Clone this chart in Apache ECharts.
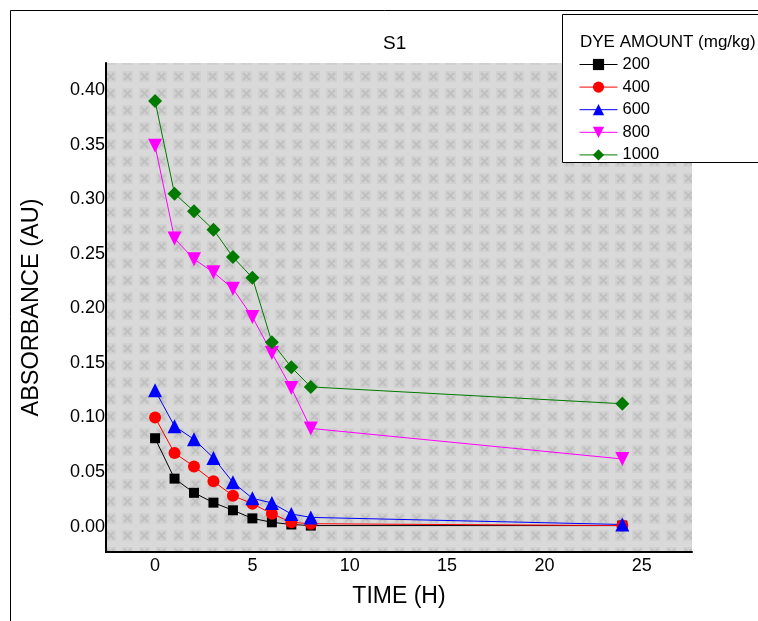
<!DOCTYPE html>
<html>
<head>
<meta charset="utf-8">
<script src="https://cdn.jsdelivr.net/npm/echarts@6/dist/echarts.min.js"></script>
<style>
html,body{margin:0;padding:0;background:#fff;}
#chart{width:758px;height:621px;}
</style>
</head>
<body>
<div id="chart"></div>
<script>
var times = [0, 1, 2, 3, 4, 5, 6, 7, 8, 24];
var seriesNames = ['200', '400', '600', '800', '1000'];
var abs200  = [0.081, 0.044, 0.031, 0.022, 0.015, 0.0076, 0.004, 0.002, 0.001, 0.001];
var abs400  = [0.100, 0.0674, 0.0552, 0.0415, 0.0284, 0.021, 0.0119, 0.004, 0.0027, 0.001];
var abs600  = [0.125, 0.092, 0.080, 0.063, 0.0406, 0.026, 0.0217, 0.0116, 0.0085, 0.002];
var abs800  = [0.349, 0.264, 0.245, 0.233, 0.218, 0.192, 0.159, 0.127, 0.090, 0.062];
var abs1000 = [0.390, 0.305, 0.289, 0.272, 0.247, 0.228, 0.169, 0.146, 0.128, 0.1126];
var yTicks = [0, 0.05, 0.10, 0.15, 0.20, 0.25, 0.30, 0.35, 0.40];
var xTicks = [0, 5, 10, 15, 20, 25];

var allValues = [abs200, abs400, abs600, abs800, abs1000];
var colors = ['#000000', '#ff0000', '#0000ff', '#ff00ff', '#007a00'];
var symbols = ['rect', 'circle', 'triangle', 'triangle', 'diamond'];
var symbolSizes = [10, 12, 14, 14, 14];
var rotations = [0, 0, 0, 180, 0];

function makePattern() {
  var c = document.createElement('canvas');
  c.width = 17; c.height = 17;
  var ctx = c.getContext('2d');
  ctx.fillStyle = '#d9d9d9';
  ctx.fillRect(0, 0, 17, 17);
  ctx.fillStyle = '#d1d1d1';
  ctx.fillRect(3, 3, 11, 11);
  ctx.strokeStyle = '#c0c0c0';
  ctx.lineWidth = 2;
  ctx.beginPath();
  ctx.moveTo(5, 5); ctx.lineTo(12, 12);
  ctx.moveTo(12, 5); ctx.lineTo(5, 12);
  ctx.stroke();
  return c;
}

var font = '"Liberation Sans", Arial, sans-serif';
var chart = echarts.init(document.getElementById('chart'), null, {renderer: 'canvas'});

var series = seriesNames.map(function (name, i) {
  return {
    name: name,
    type: 'line',
    data: times.map(function (t, j) { return [t, allValues[i][j]]; }),
    symbol: symbols[i],
    symbolSize: symbolSizes[i],
    symbolRotate: rotations[i],
    showAllSymbol: true,
    lineStyle: {color: colors[i], width: 1},
    itemStyle: {color: colors[i]},
    animation: false
  };
});

chart.setOption({
  animation: false,
  backgroundColor: '#ffffff',
  graphic: [
    {
      type: 'rect', z: 1, silent: true,
      shape: {x: 10.5, y: 10.5, width: 900, height: 800},
      style: {fill: null, stroke: '#000', lineWidth: 1}
    },
    {
      type: 'text', z: 10, silent: true,
      left: 383, top: 34,
      style: {text: 'S1', font: '19px "Liberation Sans", Arial, sans-serif', fill: '#000'}
    },
    {
      type: 'rect', z: 5, silent: true,
      shape: {x: 562.5, y: 14.5, width: 300, height: 148},
      style: {fill: '#fff', stroke: '#000', lineWidth: 1}
    },
    {
      type: 'text', z: 10, silent: true,
      left: 580, top: 34,
      style: {text: 'DYE AMOUNT (mg/kg)', font: '17px "Liberation Sans", Arial, sans-serif', fill: '#000'}
    }
  ],
  grid: {
    left: 106, top: 63, right: 66, bottom: 69,
    show: true,
    borderWidth: 0,
    backgroundColor: {image: makePattern(), repeat: 'repeat'}
  },
  xAxis: {
    type: 'value',
    min: -2.52, max: 27.58,
    name: 'TIME (H)',
    nameLocation: 'middle',
    nameGap: 33,
    nameTextStyle: {fontFamily: font, fontSize: 23, color: '#000'},
    axisLine: {show: true, onZero: false, lineStyle: {color: '#000', width: 2}},
    axisTick: {show: false},
    splitLine: {show: false},
    axisLabel: {
      customValues: xTicks,
      fontFamily: font, fontSize: 18, color: '#000', margin: 5,
      formatter: function (v) { return String(v); }
    }
  },
  yAxis: {
    type: 'value',
    min: -0.0232, max: 0.4247,
    name: 'ABSORBANCE (AU)',
    nameLocation: 'middle',
    nameGap: 62,
    nameRotate: 90,
    nameTextStyle: {fontFamily: font, fontSize: 23.5, color: '#000'},
    axisLine: {show: true, onZero: false, lineStyle: {color: '#000', width: 2}},
    axisTick: {show: false},
    splitLine: {show: false},
    axisLabel: {
      customValues: yTicks,
      fontFamily: font, fontSize: 18, color: '#000', margin: 1,
      formatter: function (v) { return v.toFixed(2); }
    }
  },
  legend: {
    data: seriesNames,
    orient: 'vertical',
    left: 579,
    top: 56,
    padding: 0,
    itemWidth: 38,
    itemHeight: 14,
    itemGap: 5.6,
    z: 10,
    lineStyle: {width: 1},
    textStyle: {fontFamily: font, fontSize: 16.5, color: '#000'}
  },
  series: series
});
</script>
</body>
</html>
